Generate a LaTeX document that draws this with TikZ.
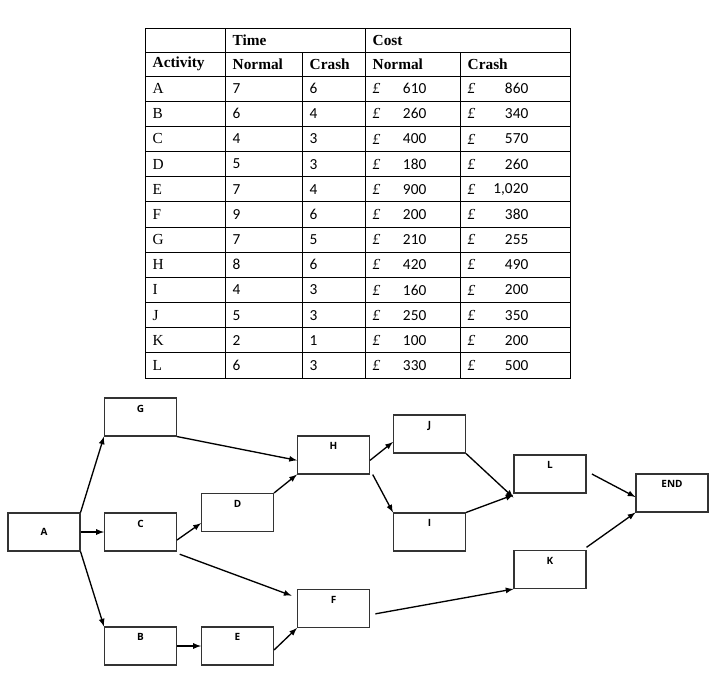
\documentclass[tikz,border=0pt]{standalone}
\usepackage{fontspec}
\setmainfont{Liberation Serif}
\newfontfamily\numf{Carlito}
\newfontfamily\boxf{Open Sans}
\begin{document}
\begin{tikzpicture}[x=0.75pt,y=-0.75pt,
  act/.style={draw=black!80,line width=0.8pt,rectangle,minimum width=54pt,minimum height=28.5pt,inner sep=0pt},
  lab/.style={font=\boxf\bfseries\fontsize{7.5}{8}\selectfont},
  arr/.style={-latex,line width=1pt},
  tl/.style={line width=0.6pt},
  th/.style={anchor=west,font=\bfseries\fontsize{11.5}{12}\selectfont},
  tc/.style={anchor=west,font=\fontsize{11.5}{12}\selectfont},
  tn/.style={anchor=west,font=\numf\fontsize{11.5}{12}\selectfont}]
\useasboundingbox[fill=white] (0,0) rectangle (720,690);
% table
\draw[tl] (145,28) rectangle (570,378);
\draw[tl] (145,52) -- (570,52);
\foreach \i in {0,...,12} \draw[tl] (145,{76+\i*25.17}) -- (570,{76+\i*25.17});
\draw[tl] (225,28) -- (225,378);
\draw[tl] (365,28) -- (365,378);
\draw[tl] (302,52) -- (302,378);
\draw[tl] (460,52) -- (460,378);
\node[th] (h1) at (228,40) {Time};
\node[th] (h2) at (368,40) {Cost};
\node[th] (h3) at (148,64) {Activity};
\node[th] (h4) at (228,64) {Normal};
\node[th] (h5) at (305,64) {Crash};
\node[th] (h6) at (368,64) {Normal};
\node[th] (h7) at (463,64) {Crash};
\foreach \a/\n/\c/\cn/\cc [count=\i from 0] in {A/7/6/610/860,B/6/4/260/340,C/4/3/400/570,D/5/3/180/260,E/7/4/900/{1,020},F/9/6/200/380,G/7/5/210/255,H/8/6/420/490,I/4/3/160/200,J/5/3/250/350,K/2/1/100/200,L/6/3/330/500}{
  \pgfmathsetmacro\yy{88.6+\i*25.17}
  \node[tc] (r\i a) at (148,\yy) {\a};
  \node[tn] (r\i n) at (228,\yy) {\n};
  \node[tn] (r\i c) at (305,\yy) {\c};
  \node[tc] (r\i p) at (368,\yy) {\textit{£}};
  \node[tn,anchor=east] (r\i cn) at (431,\yy) {\cn};
  \node[tc] (r\i q) at (463,\yy) {\textit{£}};
  \node[tn,anchor=east] (r\i cc) at (533,\yy) {\cc};
}
% network
\newcommand\actbox[3]{\node[act] (#1) at (#2) {}; \node[lab,below=2pt] at (#1.north) {#3};}
\actbox{A}{44,532}{}
\node[lab] at (44,532) {A};
\actbox{G}{140.5,417}{G}
\actbox{C}{140.5,532}{C}
\actbox{B}{140.5,646}{B}
\actbox{D}{237.5,512.5}{D}
\actbox{E}{237.5,646}{E}
\actbox{H}{333.5,455}{H}
\actbox{F}{333.5,608.5}{F}
\actbox{J}{429.5,434}{J}
\actbox{I}{429.5,532}{I}
\actbox{L}{550,474}{L}
\actbox{K}{550,569.5}{K}
\actbox{END}{672,493}{END}
\draw[arr] (A.north east) -- (G.south west);
\draw[arr] (A.east) -- (C.west);
\draw[arr] (A.south east) -- (B.north west);
\draw[arr] (G.south east) -- ([yshift=-4]H.west);
\draw[arr] ([yshift=-6]C.east) -- ([yshift=-8]D.west);
\draw[arr] ([xshift=2,yshift=-2]C.south east) -- ([xshift=-4,yshift=-5]F.north west);
\draw[arr] (D.north east) -- (H.south west);
\draw[arr] (B.east) -- (E.west);
\draw[arr] ([yshift=-3]E.east) -- (F.south west);
\draw[arr] ([yshift=-4]H.east) -- ([yshift=-6]J.west);
\draw[arr] ([xshift=2]H.south east) -- (I.north west);
\draw[arr] (J.south east) -- ([yshift=-3]L.south west);
\draw[arr] (I.north east) -- ([yshift=-1]L.south west);
\draw[arr] ([xshift=4]L.east) -- ([yshift=-3]END.west);
\draw[arr] ([xshift=4,yshift=-4]F.east) -- (K.south west);
\draw[arr] ([yshift=2]K.north east) -- (END.south west);
\end{tikzpicture}
\end{document}
